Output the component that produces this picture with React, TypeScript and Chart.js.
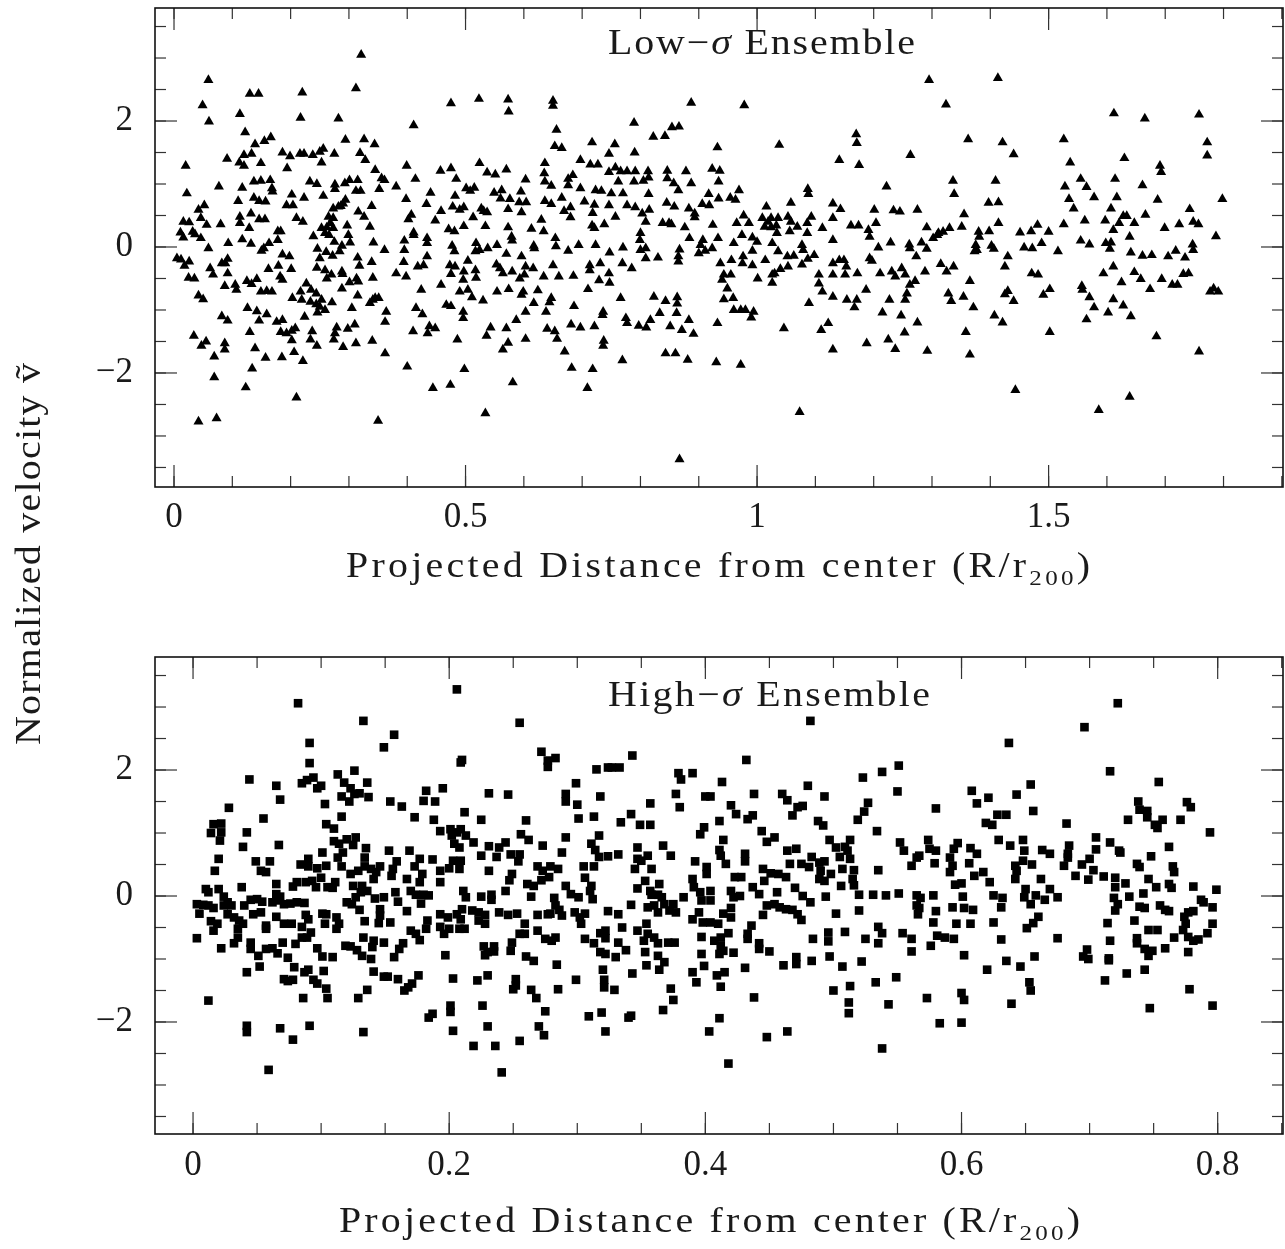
import React, { useEffect, useRef } from "react";
import { Chart, registerables } from "chart.js";

Chart.register(...registerables);

type Pt = [number, number];

// Low-sigma ensemble: [R/r200, normalized velocity]
const lowSigmaPoints: Pt[] = [
[0.321,3.05],[0.059,2.65],[0.130,2.43],[0.145,2.43],[0.220,2.45],[0.312,2.52],[0.049,2.25],[0.113,2.11],[0.217,2.05],[0.282,2.04],[0.060,1.99],[0.122,1.82],[0.166,1.74],[0.155,1.68],[0.139,1.63],[0.294,1.70],[0.326,1.71],[0.344,1.63],[0.091,1.40],[0.120,1.46],[0.133,1.48],[0.112,1.34],[0.120,1.29],[0.149,1.33],[0.186,1.50],[0.199,1.44],[0.216,1.48],[0.223,1.48],[0.238,1.46],[0.250,1.51],[0.256,1.56],[0.253,1.34],[0.194,1.25],[0.275,1.48],[0.319,1.49],[0.328,1.38],[0.020,1.29],[0.345,1.22],[0.356,1.09],[0.361,1.06],[0.077,0.96],[0.117,0.94],[0.137,1.04],[0.149,1.05],[0.165,1.06],[0.168,0.93],[0.169,0.88],[0.233,1.04],[0.245,1.00],[0.276,0.99],[0.276,0.92],[0.293,1.01],[0.301,1.06],[0.315,1.06],[0.312,0.89],[0.320,0.89],[0.352,0.92],[0.022,0.85],[0.202,0.83],[0.223,0.78],[0.256,0.81],[0.110,0.73],[0.137,0.78],[0.146,0.73],[0.157,0.72],[0.193,0.66],[0.204,0.66],[0.052,0.66],[0.042,0.59],[0.046,0.46],[0.273,0.61],[0.282,0.64],[0.290,0.69],[0.294,0.75],[0.286,0.65],[0.316,0.56],[0.326,0.48],[0.339,0.65],[0.132,0.53],[0.113,0.48],[0.113,0.38],[0.129,0.30],[0.146,0.44],[0.156,0.44],[0.210,0.46],[0.221,0.40],[0.265,0.48],[0.273,0.46],[0.268,0.38],[0.016,0.40],[0.026,0.39],[0.056,0.35],[0.080,0.36],[0.011,0.23],[0.016,0.15],[0.032,0.24],[0.036,0.20],[0.046,0.14],[0.253,0.30],[0.262,0.31],[0.259,0.22],[0.266,0.19],[0.273,0.30],[0.297,0.34],[0.299,0.19],[0.302,0.07],[0.336,0.32],[0.342,0.07],[0.178,0.25],[0.183,0.25],[0.178,0.11],[0.239,0.17],[0.117,0.12],[0.132,0.05],[0.093,0.06],[0.163,0.06],[0.154,-0.02],[0.150,-0.06],[0.275,0.08],[0.288,0.02],[0.284,-0.07],[0.272,-0.14],[0.246,-0.03],[0.261,-0.08],[0.250,-0.18],[0.361,-0.05],[0.059,-0.02],[0.186,-0.12],[0.198,-0.15],[0.201,-0.35],[0.005,-0.18],[0.012,-0.20],[0.026,-0.23],[0.018,-0.30],[0.082,-0.26],[0.092,-0.19],[0.088,-0.26],
[0.179,-0.30],[0.245,-0.33],[0.315,-0.17],[0.318,-0.30],[0.339,-0.24],[0.259,-0.37],[0.270,-0.44],[0.262,-0.50],[0.288,-0.39],[0.289,-0.43],[0.162,-0.35],[0.062,-0.34],[0.067,-0.44],[0.092,-0.42],[0.025,-0.49],[0.035,-0.50],[0.182,-0.47],[0.186,-0.52],[0.313,-0.50],[0.316,-0.55],[0.341,-0.49],[0.125,-0.54],[0.133,-0.59],[0.142,-0.51],[0.087,-0.62],[0.105,-0.60],[0.107,-0.68],[0.301,-0.56],[0.227,-0.58],[0.217,-0.71],[0.235,-0.68],[0.244,-0.74],[0.288,-0.66],[0.149,-0.71],[0.159,-0.70],[0.168,-0.71],[0.219,-0.84],[0.234,-0.87],[0.244,-0.91],[0.253,-0.84],[0.250,-0.95],[0.259,-1.00],[0.246,-1.04],[0.271,-0.88],[0.203,-0.81],[0.042,-0.77],[0.050,-0.83],[0.315,-0.77],[0.336,-0.89],[0.345,-0.81],[0.351,-0.81],[0.341,-0.84],[0.305,-0.97],[0.364,-1.03],[0.126,-0.97],[0.142,-1.02],[0.159,-1.07],[0.146,-1.17],[0.082,-1.10],[0.092,-1.17],[0.224,-1.11],[0.176,-1.19],[0.186,-1.16],[0.362,-1.19],[0.279,-1.28],[0.298,-1.30],[0.310,-1.23],[0.130,-1.35],[0.183,-1.35],[0.193,-1.37],[0.202,-1.33],[0.208,-1.29],[0.202,-1.48],[0.237,-1.34],[0.234,-1.47],[0.245,-1.57],[0.276,-1.37],[0.274,-1.47],[0.290,-1.59],[0.312,-1.53],[0.340,-1.49],[0.034,-1.41],[0.047,-1.57],[0.055,-1.50],[0.087,-1.53],[0.087,-1.63],[0.139,-1.61],[0.069,-1.74],[0.157,-1.76],[0.185,-1.75],[0.206,-1.67],[0.221,-1.81],[0.362,-1.69],[0.134,-1.93],[0.069,-2.07],[0.123,-2.23],[0.210,-2.39],[0.042,-2.77],[0.073,-2.72],[0.350,-2.76],
[0.475,2.28],[0.523,2.35],[0.573,2.34],[0.574,2.15],[0.650,2.32],[0.650,2.24],[0.411,1.93],[0.656,1.86],[0.653,1.60],[0.665,1.57],[0.717,1.66],[0.746,1.48],[0.399,1.29],[0.457,1.21],[0.475,1.25],[0.414,1.08],[0.381,0.96],[0.484,1.08],[0.524,1.33],[0.537,1.18],[0.551,1.15],[0.570,1.23],[0.603,1.07],[0.636,1.33],[0.635,1.17],[0.636,1.04],[0.647,0.97],[0.676,1.08],[0.684,1.14],[0.676,0.98],[0.697,1.38],[0.714,1.31],[0.727,1.31],[0.697,0.93],[0.746,1.19],[0.501,0.93],[0.515,0.94],[0.508,0.89],[0.440,0.86],[0.482,0.81],[0.549,0.86],[0.562,0.90],[0.560,0.77],[0.576,0.76],[0.573,0.60],[0.595,0.88],[0.592,0.71],[0.604,0.71],[0.596,0.55],[0.636,0.73],[0.647,0.68],[0.665,0.78],[0.669,0.57],[0.680,0.63],[0.680,0.47],[0.704,0.72],[0.723,0.90],[0.733,0.89],[0.721,0.67],[0.718,0.54],[0.398,0.76],[0.433,0.68],[0.458,0.57],[0.448,0.42],[0.478,0.64],[0.490,0.59],[0.497,0.63],[0.513,0.47],[0.527,0.61],[0.531,0.57],[0.537,0.55],[0.407,0.51],[0.402,0.44],[0.411,0.23],[0.411,0.19],[0.471,0.28],[0.481,0.25],[0.497,0.33],[0.534,0.33],[0.573,0.31],[0.579,0.16],[0.580,0.10],[0.613,0.29],[0.630,0.43],[0.634,0.25],[0.717,0.34],[0.721,0.30],[0.738,0.36],[0.746,0.66],[0.395,0.10],[0.395,-0.05],[0.434,0.06],[0.434,0.14],[0.434,-0.15],[0.477,0.02],[0.481,-0.07],[0.518,0.06],[0.524,-0.05],[0.538,-0.02],[0.517,-0.07],[0.554,0.03],[0.570,-0.11],[0.596,-0.15],[0.617,0.02],[0.618,-0.02],[0.654,0.14],[0.655,0.01],[0.676,-0.06],[0.694,0.03],[0.723,0.03],[0.747,-0.09],[0.381,-0.42],[0.398,-0.47],[0.394,-0.24],[0.418,-0.31],[0.428,-0.29],[0.424,-0.68],[0.458,-0.60],[0.473,-0.29],[0.482,-0.31],[0.475,-0.43],[0.497,-0.39],[0.496,-0.52],[0.517,-0.37],[0.518,-0.49],[0.504,-0.22],[0.490,-0.71],[0.504,-0.68],[0.511,-0.80],[0.530,-0.85],[0.553,-0.28],[0.559,-0.34],[0.564,-0.42],[0.580,-0.39],[0.593,-0.50],[0.601,-0.44],[0.603,-0.31],[0.616,-0.34],[0.554,-0.71],[0.574,-0.67],[0.596,-0.76],[0.599,-0.71],[0.624,-0.69],[0.634,-0.47],[0.650,-0.29],[0.660,-0.47],[0.685,-0.46],[0.713,-0.29],[0.713,-0.37],[0.731,-0.26],[0.729,-0.53],[0.746,-0.42],[0.747,-0.57],[0.710,-0.67],[0.647,-0.81],[0.644,-0.88],[0.617,-0.89],[0.603,-1.03],[0.638,-1.03],[0.686,-0.94],[0.736,-1.03],[0.735,-1.08],[0.415,-0.97],[0.426,-1.07],[0.467,-0.92],[0.475,-0.94],[0.496,-1.03],[0.496,-1.13],[0.410,-1.34],[0.438,-1.26],[0.448,-1.29],[0.435,-1.37],[0.486,-1.47],[0.536,-1.41],[0.543,-1.28],[0.570,-1.29],[0.573,-1.52],[0.564,-1.63],[0.587,-1.16],[0.603,-1.46],[0.640,-1.30],[0.653,-1.34],[0.657,-1.46],[0.670,-1.66],[0.681,-1.23],[0.697,-1.28],[0.721,-1.26],[0.737,-1.49],[0.736,-1.57],[0.400,-1.90],[0.498,-1.94],[0.682,-1.92],[0.718,-1.94],[0.444,-2.24],[0.474,-2.19],[0.581,-2.15],[0.709,-2.24],[0.534,-2.64],
[0.887,2.29],[0.978,2.25],[0.789,1.97],[0.822,1.75],[0.842,1.76],[0.854,1.90],[0.866,1.91],[0.932,1.58],[1.038,1.62],[0.756,1.63],[0.790,1.50],[0.757,1.26],[0.766,1.20],[0.777,1.20],[0.791,1.20],[0.805,1.05],[0.789,1.04],[0.813,1.20],[0.814,1.10],[0.762,1.04],[0.770,0.85],[0.750,0.85],[0.846,1.21],[0.846,1.09],[0.857,1.01],[0.865,0.90],[0.878,1.20],[0.887,1.01],[0.923,1.24],[0.936,1.21],[0.934,1.04],[0.814,0.84],[0.757,0.48],[0.777,0.66],[0.791,0.63],[0.803,0.53],[0.809,0.40],[0.815,0.59],[0.845,0.70],[0.858,0.64],[0.838,0.38],[0.849,0.38],[0.853,0.36],[0.883,0.61],[0.893,0.53],[0.893,0.47],[0.906,0.68],[0.918,0.66],[0.917,0.84],[0.934,0.77],[0.954,0.78],[0.963,0.75],[0.969,0.90],[0.876,0.31],[0.884,0.14],[0.924,0.35],[0.933,0.14],[0.907,0.11],[0.900,-0.10],[0.911,-0.06],[0.923,-0.02],[0.903,0.03],[0.867,-0.04],[0.865,-0.15],[0.865,-0.23],[0.800,0.22],[0.799,0.11],[0.809,-0.02],[0.800,-0.05],[0.770,-0.01],[0.769,-0.26],[0.785,-0.34],[0.809,-0.18],[0.830,-0.17],[0.977,0.50],[0.986,0.38],[0.974,0.19],[0.992,0.15],[1.000,0.08],[0.992,-0.06],[0.965,0.38],[0.960,0.06],[0.956,-0.21],[0.976,-0.15],[0.975,-0.26],[0.992,-0.29],[0.937,-0.26],[0.943,-0.44],[0.955,-0.44],[0.940,-0.52],[0.949,-0.66],[0.943,-0.83],[0.959,-0.81],[0.960,-1.00],[0.972,-1.00],[0.980,-1.00],[0.994,-1.03],[0.990,-1.12],[1.016,0.64],[1.009,0.46],[1.019,0.40],[1.024,0.46],[1.036,0.46],[1.033,0.34],[1.024,0.31],[1.013,0.32],[1.053,0.48],[1.058,0.40],[1.069,0.32],[1.056,0.25],[1.034,0.22],[1.086,0.22],[1.093,0.48],[1.112,0.30],[1.086,0.38],[1.087,0.92],[1.088,0.84],[1.058,0.70],[1.130,0.69],[1.130,0.46],[1.130,0.11],[1.026,0.06],[1.036,-0.07],[1.014,-0.21],[1.052,-0.15],[1.063,-0.14],[1.077,0.03],[1.079,-0.05],[1.026,-0.44],[1.030,-0.42],[1.040,-0.35],[1.053,-0.31],[1.026,-0.57],[1.077,-0.28],[1.087,-0.19],[1.098,-0.13],[1.001,-0.50],[1.106,-0.44],[1.106,-0.58],[1.112,-0.71],[1.089,-0.89],[1.130,-0.26],[1.130,-0.44],[1.130,-0.79],[0.766,-0.81],[0.823,-0.79],[0.843,-0.86],[0.863,-0.80],[0.863,-0.90],[0.862,-1.05],[0.833,-1.05],[0.775,-1.13],[0.777,-1.21],[0.797,-1.25],[0.810,-1.28],[0.817,-1.16],[0.851,-1.26],[0.871,-1.32],[0.883,-1.16],[0.891,-1.38],[0.932,-1.21],[1.046,-1.29],[1.110,-1.32],[1.122,-1.21],[1.130,-1.63],[0.843,-1.69],[0.860,-1.69],[0.881,-1.79],[0.769,-1.80],[0.930,-1.83],[0.972,-1.87],[1.073,-2.62],[0.867,-3.37],
[1.295,2.65],[1.413,2.68],[1.324,2.26],[1.170,1.79],[1.171,1.65],[1.362,1.71],[1.421,1.66],[1.440,1.47],[1.141,1.38],[1.175,1.30],[1.263,1.46],[1.222,0.96],[1.336,1.05],[1.338,0.84],[1.409,1.05],[1.397,0.70],[1.414,0.71],[1.143,0.60],[1.201,0.59],[1.234,0.58],[1.245,0.56],[1.275,0.59],[1.355,0.52],[1.161,0.34],[1.174,0.34],[1.191,0.27],[1.193,0.16],[1.204,0.38],[1.291,0.31],[1.302,0.14],[1.311,0.22],[1.319,0.24],[1.330,0.30],[1.351,0.32],[1.309,0.19],[1.380,0.24],[1.381,0.16],[1.375,0.03],[1.373,-0.07],[1.377,-0.05],[1.398,0.25],[1.414,0.38],[1.402,0.02],[1.406,-0.03],[1.451,0.23],[1.470,0.25],[1.481,0.35],[1.500,0.24],[1.488,0.06],[1.458,-0.01],[1.472,-0.02],[1.516,-0.07],[1.208,-0.01],[1.229,0.07],[1.261,0.04],[1.262,-0.02],[1.273,-0.15],[1.282,0.07],[1.291,-0.03],[1.141,-0.21],[1.149,-0.21],[1.153,-0.31],[1.151,-0.44],[1.172,-0.42],[1.193,-0.18],[1.197,-0.22],[1.211,-0.42],[1.231,-0.39],[1.237,-0.47],[1.248,-0.34],[1.254,-0.44],[1.262,-0.60],[1.271,-0.54],[1.257,-0.74],[1.254,-0.84],[1.288,-0.39],[1.315,-0.27],[1.325,-0.39],[1.337,-0.31],[1.365,-0.54],[1.328,-0.74],[1.333,-0.86],[1.354,-0.79],[1.371,-0.96],[1.425,-0.31],[1.430,-0.15],[1.425,-0.75],[1.430,-0.70],[1.440,-0.86],[1.471,-0.42],[1.482,-0.44],[1.491,-0.76],[1.502,-0.67],[1.154,-0.84],[1.171,-0.84],[1.167,-0.96],[1.187,-0.68],[1.227,-0.84],[1.215,-1.04],[1.247,-1.09],[1.253,-1.36],[1.275,-1.20],[1.225,-1.47],[1.237,-1.62],[1.188,-1.53],[1.292,-1.65],[1.358,-1.35],[1.365,-1.71],[1.407,-1.09],[1.421,-1.20],[1.502,-1.35],[1.443,-2.27],
[1.612,2.12],[1.665,2.04],[1.758,2.10],[1.526,1.71],[1.772,1.66],[1.772,1.45],[1.537,1.34],[1.630,1.41],[1.691,1.29],[1.693,1.19],[1.555,1.08],[1.565,0.95],[1.614,1.08],[1.661,0.98],[1.528,0.96],[1.535,0.76],[1.543,0.61],[1.578,0.79],[1.617,0.79],[1.687,0.75],[1.798,0.76],[1.607,0.61],[1.628,0.49],[1.634,0.49],[1.742,0.60],[1.666,0.51],[1.526,0.36],[1.562,0.42],[1.597,0.42],[1.621,0.38],[1.647,0.38],[1.611,0.27],[1.699,0.30],[1.724,0.36],[1.748,0.40],[1.757,0.36],[1.639,0.16],[1.787,0.17],[1.555,0.10],[1.570,0.04],[1.598,0.06],[1.607,0.07],[1.605,-0.03],[1.641,-0.09],[1.661,-0.14],[1.677,-0.13],[1.705,-0.15],[1.718,-0.06],[1.734,-0.17],[1.747,0.04],[1.748,-0.05],[1.594,-0.42],[1.611,-0.31],[1.647,-0.40],[1.658,-0.51],[1.625,-0.56],[1.674,-0.67],[1.694,-0.51],[1.712,-0.60],[1.721,-0.60],[1.731,-0.43],[1.740,-0.42],[1.557,-0.62],[1.558,-0.68],[1.570,-0.80],[1.578,-0.96],[1.565,-1.15],[1.611,-0.83],[1.602,-1.04],[1.628,-0.93],[1.641,-1.10],[1.777,-0.71],[1.783,-0.66],[1.791,-0.71],[1.685,-1.42],[1.758,-1.66],[1.639,-2.38],[1.586,-2.59]
];

// High-sigma ensemble: [R/r200, normalized velocity]
const highSigmaPoints: Pt[] = [
[0.082,3.06],[0.133,2.78],[0.091,2.43],[0.149,2.36],[0.091,2.11],[0.044,1.85],[0.065,1.75],[0.068,1.53],[0.028,1.40],[0.085,1.79],[0.089,1.84],[0.094,1.88],[0.097,1.71],[0.100,1.75],[0.103,1.46],[0.113,1.93],[0.118,1.80],[0.123,1.71],[0.126,1.99],[0.136,1.80],[0.137,1.57],[0.116,1.58],[0.122,1.50],[0.126,1.62],[0.130,1.63],[0.116,1.26],[0.055,1.23],[0.016,1.14],[0.022,1.15],[0.014,1.00],[0.022,1.01],[0.021,0.88],[0.042,1.01],[0.039,0.78],[0.067,0.81],[0.104,1.14],[0.110,1.07],[0.110,0.87],[0.114,0.83],[0.120,0.90],[0.125,0.81],[0.127,0.93],[0.135,0.76],[0.117,0.69],[0.113,0.61],[0.116,0.47],[0.134,0.61],[0.134,0.47],[0.101,0.69],[0.020,0.59],[0.017,0.40],[0.049,0.55],[0.060,0.55],[0.053,0.40],[0.057,0.38],[0.084,0.50],[0.090,0.59],[0.090,0.47],[0.097,0.44],[0.104,0.48],[0.123,0.35],[0.129,0.40],[0.139,0.43],[0.143,0.38],[0.146,0.47],[0.141,0.27],[0.010,0.11],[0.012,0.06],[0.020,0.11],[0.038,0.14],[0.065,0.19],[0.065,0.03],[0.068,-0.01],[0.078,0.15],[0.081,0.22],[0.088,0.22],[0.093,0.24],[0.100,0.29],[0.096,0.14],[0.105,0.14],[0.109,0.13],[0.111,0.22],[0.125,0.16],[0.132,0.16],[0.136,0.08],[0.131,0.06],[0.127,-0.02],[0.142,-0.04],[0.149,-0.02],[0.003,-0.13],[0.008,-0.14],[0.012,-0.15],[0.016,-0.19],[0.005,-0.28],[0.024,-0.01],[0.027,-0.10],[0.024,-0.15],[0.030,-0.15],[0.027,-0.29],[0.032,-0.34],[0.036,-0.39],[0.039,-0.44],[0.040,-0.15],[0.045,-0.06],[0.050,-0.05],[0.054,-0.09],[0.047,-0.29],[0.053,-0.26],[0.062,-0.10],[0.066,-0.07],[0.071,-0.13],[0.076,-0.12],[0.081,-0.10],[0.087,-0.11],[0.065,-0.33],[0.088,-0.30],[0.090,-0.37],[0.101,-0.28],[0.104,-0.29],[0.112,-0.34],[0.114,-0.44],[0.112,-0.52],[0.120,-0.10],[0.124,-0.13],[0.130,-0.22],[0.146,-0.21],[0.146,-0.31],[0.134,-0.40],[0.145,-0.43],[0.014,-0.40],[0.019,-0.44],[0.016,-0.55],[0.035,-0.52],[0.035,-0.66],[0.057,-0.47],[0.057,-0.52],[0.071,-0.44],[0.077,-0.44],[0.085,-0.49],[0.103,-0.44],[0.003,-0.67],[0.022,-0.83],[0.032,-0.75],[0.045,-0.74],[0.045,-0.84],[0.057,-0.84],[0.062,-0.83],[0.066,-0.91],[0.070,-0.74],[0.080,-0.76],[0.085,-0.66],[0.089,-0.66],[0.092,-0.58],[0.097,-0.83],[0.101,-0.96],[0.109,-0.97],[0.051,-0.95],[0.074,-0.98],[0.119,-0.79],[0.123,-0.80],[0.128,-0.86],[0.132,-0.95],[0.139,-1.00],[0.140,-0.81],[0.141,-0.71],[0.133,-0.66],[0.149,-0.74],[0.042,-1.21],[0.052,-1.12],[0.079,-1.13],[0.087,-1.21],[0.090,-1.17],[0.102,-1.19],[0.071,-1.32],[0.074,-1.35],[0.078,-1.33],[0.094,-1.33],[0.097,-1.39],[0.104,-1.47],[0.141,-1.20],[0.149,-1.28],[0.136,-1.49],[0.012,-1.66],[0.086,-1.62],[0.105,-1.62],[0.129,-1.62],[0.042,-2.06],[0.042,-2.16],[0.068,-2.10],[0.091,-2.06],[0.078,-2.28],[0.133,-2.16],[0.059,-2.76],
[0.206,3.28],[0.255,2.75],[0.157,2.56],[0.209,2.12],[0.210,2.16],[0.272,2.29],[0.277,2.15],[0.283,2.19],[0.277,2.05],[0.315,2.01],[0.324,2.04],[0.299,1.79],[0.182,1.67],[0.195,1.71],[0.154,1.50],[0.163,1.42],[0.180,1.51],[0.189,1.50],[0.231,1.63],[0.246,1.61],[0.291,1.62],[0.291,1.50],[0.300,1.45],[0.318,1.58],[0.173,1.25],[0.188,1.21],[0.212,1.33],[0.225,1.21],[0.260,1.20],[0.301,1.23],[0.313,1.26],[0.193,1.03],[0.201,1.06],[0.206,1.01],[0.209,1.06],[0.202,0.96],[0.213,0.96],[0.204,0.83],[0.208,0.77],[0.219,0.85],[0.256,0.98],[0.262,0.89],[0.273,0.80],[0.291,0.93],[0.317,0.96],[0.311,0.83],[0.314,0.73],[0.317,0.62],[0.153,0.72],[0.169,0.72],[0.231,0.79],[0.239,0.77],[0.244,0.85],[0.237,0.62],[0.225,0.64],[0.248,0.66],[0.255,0.66],[0.254,0.55],[0.288,0.69],[0.324,0.63],[0.159,0.55],[0.177,0.59],[0.187,0.58],[0.203,0.56],[0.209,0.56],[0.156,0.43],[0.173,0.47],[0.179,0.35],[0.193,0.40],[0.200,0.44],[0.208,0.43],[0.155,0.32],[0.167,0.27],[0.177,0.22],[0.193,0.22],[0.231,0.40],[0.249,0.35],[0.247,0.25],[0.269,0.47],[0.273,0.40],[0.279,0.47],[0.285,0.43],[0.272,0.25],[0.278,0.30],[0.261,0.19],[0.266,0.16],[0.305,0.47],[0.313,0.47],[0.306,0.29],[0.311,0.16],[0.158,0.06],[0.160,-0.09],[0.170,0.08],[0.174,0.02],[0.180,0.02],[0.184,0.01],[0.178,-0.12],[0.211,0.08],[0.213,-0.02],[0.225,-0.01],[0.233,0.02],[0.233,-0.06],[0.244,0.08],[0.264,-0.01],[0.282,-0.03],[0.283,-0.15],[0.286,-0.22],[0.279,-0.28],[0.288,-0.31],[0.291,0.16],[0.295,0.03],[0.301,-0.02],[0.310,0.08],[0.312,-0.05],[0.167,-0.24],[0.193,-0.29],[0.199,-0.34],[0.206,-0.29],[0.210,-0.21],[0.209,-0.37],[0.218,-0.23],[0.223,-0.26],[0.228,-0.30],[0.223,-0.39],[0.228,-0.44],[0.239,-0.26],[0.246,-0.30],[0.253,-0.28],[0.269,-0.30],[0.277,-0.29],[0.298,-0.26],[0.302,-0.34],[0.306,-0.28],[0.303,-0.44],[0.324,-0.24],[0.154,-0.42],[0.183,-0.39],[0.182,-0.52],[0.193,-0.49],[0.196,-0.60],[0.200,-0.52],[0.208,-0.52],[0.212,-0.52],[0.259,-0.44],[0.259,-0.60],[0.255,-0.60],[0.269,-0.55],[0.275,-0.68],[0.280,-0.71],[0.283,-0.66],[0.170,-0.55],[0.174,-0.60],[0.177,-0.70],[0.164,-0.75],[0.161,-0.84],[0.157,-0.97],[0.227,-0.80],[0.235,-0.80],[0.230,-0.89],[0.228,-0.94],[0.235,-0.88],[0.249,-0.74],[0.248,-0.87],[0.197,-0.94],[0.260,-0.96],[0.266,-1.03],[0.284,-1.09],[0.306,-0.68],[0.313,-0.75],[0.318,-0.59],[0.322,-0.55],[0.322,-0.67],[0.318,-0.89],[0.322,-0.92],[0.320,-1.17],[0.152,-1.28],[0.160,-1.32],[0.176,-1.26],[0.171,-1.39],[0.165,-1.50],[0.168,-1.45],[0.203,-1.31],[0.222,-1.34],[0.230,-1.26],[0.252,-1.32],[0.250,-1.48],[0.252,-1.42],[0.264,-1.49],[0.268,-1.62],[0.285,-1.48],[0.299,-1.33],[0.321,-1.33],[0.321,-1.45],[0.201,-1.74],[0.201,-1.84],[0.226,-1.74],[0.184,-1.93],[0.187,-1.87],[0.275,-1.83],[0.309,-1.91],[0.319,-1.85],[0.203,-2.14],[0.230,-2.07],[0.270,-2.07],[0.274,-2.21],[0.322,-2.15],[0.219,-2.38],[0.236,-2.38],[0.255,-2.30],[0.241,-2.80],
[0.482,2.78],[0.343,2.23],[0.327,2.04],[0.333,2.04],[0.432,2.16],[0.379,1.95],[0.381,1.85],[0.390,1.95],[0.413,1.81],[0.480,1.75],[0.377,1.62],[0.380,1.41],[0.400,1.58],[0.404,1.58],[0.438,1.62],[0.460,1.62],[0.464,1.52],[0.493,1.58],[0.357,1.47],[0.420,1.44],[0.424,1.30],[0.433,1.22],[0.437,1.28],[0.472,1.41],[0.476,1.43],[0.468,1.28],[0.334,1.17],[0.342,1.30],[0.349,1.13],[0.357,1.13],[0.411,1.19],[0.488,1.19],[0.492,1.12],[0.399,1.09],[0.396,0.98],[0.444,1.03],[0.448,0.86],[0.454,0.93],[0.414,0.89],[0.497,0.89],[0.367,0.80],[0.347,0.77],[0.347,0.59],[0.350,0.56],[0.345,0.43],[0.355,0.64],[0.358,0.43],[0.332,0.66],[0.373,0.64],[0.411,0.73],[0.412,0.64],[0.416,0.51],[0.392,0.55],[0.401,0.46],[0.401,0.35],[0.431,0.67],[0.431,0.55],[0.464,0.72],[0.471,0.75],[0.466,0.51],[0.475,0.51],[0.483,0.62],[0.481,0.46],[0.489,0.53],[0.493,0.55],[0.490,0.40],[0.445,0.43],[0.446,0.24],[0.423,0.30],[0.428,0.30],[0.451,0.36],[0.457,0.35],[0.463,0.30],[0.489,0.27],[0.493,0.24],[0.498,0.35],[0.353,0.24],[0.357,0.08],[0.364,0.19],[0.358,0.02],[0.363,0.02],[0.366,-0.02],[0.360,-0.15],[0.363,-0.26],[0.347,0.12],[0.368,-0.13],[0.375,-0.13],[0.377,-0.26],[0.372,-0.23],[0.383,-0.02],[0.342,-0.14],[0.355,-0.18],[0.390,0.27],[0.391,0.14],[0.396,0.06],[0.397,-0.07],[0.404,-0.07],[0.404,0.08],[0.420,0.08],[0.427,0.00],[0.422,-0.02],[0.437,0.14],[0.442,0.03],[0.456,0.06],[0.470,0.13],[0.476,0.00],[0.482,-0.10],[0.494,-0.01],[0.332,-0.29],[0.390,-0.37],[0.395,-0.26],[0.398,-0.42],[0.404,-0.42],[0.410,-0.44],[0.414,-0.28],[0.420,-0.19],[0.420,-0.34],[0.445,-0.30],[0.448,-0.15],[0.454,-0.13],[0.458,-0.18],[0.463,-0.21],[0.468,-0.22],[0.472,-0.29],[0.475,-0.38],[0.436,-0.47],[0.433,-0.60],[0.433,-0.68],[0.335,-0.50],[0.347,-0.55],[0.354,-0.44],[0.355,-0.60],[0.352,-0.71],[0.360,-0.66],[0.363,-0.75],[0.371,-0.74],[0.376,-0.74],[0.353,-0.89],[0.332,-0.74],[0.338,-0.86],[0.330,-0.97],[0.363,-0.95],[0.368,-1.05],[0.364,-1.17],[0.354,-1.10],[0.343,-1.23],[0.397,-0.65],[0.397,-0.92],[0.399,-1.11],[0.407,-0.71],[0.412,-0.66],[0.418,-0.59],[0.412,-0.79],[0.411,-0.92],[0.414,-0.87],[0.422,-0.90],[0.442,-0.75],[0.442,-0.84],[0.450,-0.88],[0.431,-1.14],[0.461,-1.10],[0.471,-0.97],[0.471,-1.08],[0.483,-1.03],[0.484,-0.68],[0.496,-0.58],[0.496,-0.72],[0.497,-0.96],[0.390,-1.21],[0.393,-1.37],[0.409,-1.26],[0.415,-1.21],[0.412,-1.44],[0.373,-1.47],[0.375,-1.65],[0.329,-1.49],[0.438,-1.61],[0.500,-1.50],[0.367,-1.81],[0.340,-1.93],[0.342,-1.90],[0.411,-1.94],[0.403,-2.15],[0.448,-2.24],[0.464,-2.15],[0.418,-2.66],
[0.637,2.43],[0.523,1.88],[0.538,1.97],[0.551,2.07],[0.550,1.66],[0.608,1.67],[0.612,1.47],[0.621,1.56],[0.643,1.61],[0.654,1.77],[0.656,1.35],[0.527,1.48],[0.524,1.34],[0.519,1.21],[0.580,1.39],[0.619,1.16],[0.624,1.13],[0.628,1.29],[0.635,1.29],[0.534,1.03],[0.502,0.77],[0.509,0.78],[0.513,0.89],[0.505,0.62],[0.511,0.72],[0.513,0.59],[0.552,0.85],[0.555,0.72],[0.574,0.89],[0.567,0.64],[0.575,0.75],[0.580,0.72],[0.561,0.48],[0.565,0.61],[0.579,0.52],[0.597,0.84],[0.594,0.75],[0.591,0.61],[0.593,0.48],[0.591,0.38],[0.607,0.76],[0.612,0.67],[0.606,0.52],[0.629,0.89],[0.638,0.80],[0.648,0.89],[0.649,0.72],[0.663,0.73],[0.669,0.67],[0.642,0.48],[0.648,0.56],[0.655,0.50],[0.643,0.40],[0.642,0.27],[0.507,0.43],[0.516,0.41],[0.515,0.27],[0.506,0.16],[0.516,0.17],[0.535,0.41],[0.617,0.38],[0.622,0.22],[0.610,0.32],[0.662,0.27],[0.669,0.11],[0.595,0.18],[0.600,0.20],[0.520,0.02],[0.531,0.02],[0.541,0.01],[0.551,0.04],[0.565,0.01],[0.568,-0.03],[0.565,-0.15],[0.566,-0.29],[0.567,-0.19],[0.578,0.01],[0.601,-0.01],[0.625,0.01],[0.632,-0.03],[0.631,-0.18],[0.650,0.11],[0.649,-0.02],[0.654,-0.13],[0.658,0.01],[0.665,-0.06],[0.675,-0.02],[0.502,-0.28],[0.520,-0.23],[0.580,-0.24],[0.593,-0.18],[0.602,-0.19],[0.609,-0.22],[0.660,-0.33],[0.656,-0.43],[0.651,-0.51],[0.535,-0.49],[0.538,-0.59],[0.535,-0.75],[0.554,-0.59],[0.561,-0.68],[0.561,-0.88],[0.578,-0.42],[0.581,-0.63],[0.587,-0.66],[0.594,-0.68],[0.576,-0.79],[0.596,-0.44],[0.607,-0.44],[0.625,-0.42],[0.631,-0.69],[0.509,-0.57],[0.525,-0.68],[0.507,-1.12],[0.522,-1.04],[0.602,-0.94],[0.620,-1.17],[0.635,-1.03],[0.646,-1.12],[0.657,-0.96],[0.675,-0.67],[0.513,-1.43],[0.533,-1.37],[0.549,-1.29],[0.512,-1.69],[0.512,-1.86],[0.543,-1.72],[0.573,-1.62],[0.600,-1.54],[0.602,-1.65],[0.653,-1.37],[0.654,-1.50],[0.639,-1.71],[0.583,-2.02],[0.600,-2.01],[0.538,-2.42],
[0.722,3.06],[0.696,2.68],[0.716,1.98],[0.754,1.81],[0.738,1.50],[0.739,1.37],[0.745,1.35],[0.776,1.49],[0.779,1.41],[0.730,1.21],[0.745,1.25],[0.751,1.13],[0.753,1.08],[0.757,1.21],[0.771,1.21],[0.682,1.15],[0.794,1.01],[0.705,0.93],[0.684,0.80],[0.683,0.67],[0.683,0.61],[0.680,0.48],[0.705,0.74],[0.716,0.85],[0.723,0.72],[0.724,0.69],[0.762,0.78],[0.748,0.63],[0.694,0.50],[0.700,0.59],[0.703,0.41],[0.737,0.51],[0.739,0.46],[0.765,0.47],[0.766,0.38],[0.689,0.32],[0.699,0.26],[0.711,0.31],[0.720,0.29],[0.720,0.14],[0.728,0.20],[0.746,0.27],[0.752,0.14],[0.762,0.19],[0.764,0.13],[0.781,0.15],[0.799,0.10],[0.719,-0.03],[0.722,-0.13],[0.720,-0.23],[0.731,-0.01],[0.739,-0.17],[0.743,-0.19],[0.742,0.04],[0.735,-0.39],[0.714,-0.43],[0.755,-0.15],[0.759,-0.22],[0.762,-0.24],[0.787,-0.06],[0.789,-0.10],[0.796,-0.18],[0.774,-0.33],[0.777,-0.26],[0.781,-0.24],[0.775,-0.44],[0.773,-0.54],[0.746,-0.54],[0.753,-0.54],[0.796,-0.44],[0.792,-0.59],[0.716,-0.71],[0.737,-0.67],[0.737,-0.75],[0.743,-0.84],[0.746,-0.95],[0.749,-0.87],[0.759,-0.83],[0.766,-0.66],[0.777,-0.65],[0.781,-0.71],[0.785,-0.69],[0.777,-0.89],[0.698,-0.85],[0.695,-0.96],[0.699,-1.00],[0.715,-0.99],[0.715,-1.02],[0.743,-1.17],[0.729,-1.23],[0.712,-1.34],[0.778,-1.48],[0.747,-1.78],[0.796,-1.74]
];

const lowXTicks = [0, 0.5, 1, 1.5];
const highXTicks = [0, 0.2, 0.4, 0.6, 0.8];
const yTicks = [-2, 0, 2];
const lowXMinorStep = 0.1;
const highXMinorStep = 0.05;
const yMinorStep = 0.5;

const W = 1285;
const H = 1249;
const FONT = '"Liberation Serif", "DejaVu Serif", serif';
const TEXT = "#1a1a1a";

type Run = { text: string; size: number; italic?: boolean; dy?: number };

function fmt(v: number): string {
  const s = String(Math.round(v * 100) / 100);
  return s.replace("-", "\u2212");
}

function drawRuns(ctx: CanvasRenderingContext2D, runs: Run[], x: number, y: number, target: number) {
  ctx.save();
  ctx.fillStyle = TEXT;
  ctx.textAlign = "left";
  ctx.textBaseline = "alphabetic";
  const c: any = ctx;
  let natural = 0;
  let n = 0;
  const widths: number[] = [];
  for (const r of runs) {
    ctx.font = `${r.italic ? "italic " : ""}${r.size}px ${FONT}`;
    c.letterSpacing = "0px";
    const w = ctx.measureText(r.text).width;
    widths.push(w);
    natural += w;
    n += Array.from(r.text).length;
  }
  // widen glyphs a little (the original uses a broad stroke font), spread the rest
  const sx = Math.min(1.14, Math.max(1, target / natural));
  const ls = n > 1 ? (target / sx - natural) / (n - 1) : 0;
  ctx.translate(x, y);
  ctx.scale(sx, 1);
  let cx = 0;
  runs.forEach((r, i) => {
    ctx.font = `${r.italic ? "italic " : ""}${r.size}px ${FONT}`;
    c.letterSpacing = `${ls}px`;
    ctx.fillText(r.text, cx, r.dy || 0);
    cx += widths[i] + ls * Array.from(r.text).length;
  });
  ctx.restore();
}

const frameTicks = {
  id: "frameTicks",
  afterDraw(chart: any, _args: any, opts: any) {
    const { ctx, chartArea: a, scales } = chart;
    const xs = scales.x;
    const ys = scales.y;
    ctx.save();
    ctx.strokeStyle = "#333";
    ctx.lineWidth = 1.2;
    const line = (x1: number, y1: number, x2: number, y2: number) => {
      ctx.beginPath();
      ctx.moveTo(x1, y1);
      ctx.lineTo(x2, y2);
      ctx.stroke();
    };
    const xTick = (v: number, len: number) => {
      const p = xs.getPixelForValue(v);
      line(p, a.bottom, p, a.bottom - len);
      line(p, a.top, p, a.top + len);
    };
    const yTick = (v: number, len: number) => {
      const p = ys.getPixelForValue(v);
      line(a.left, p, a.left + len, p);
      line(a.right, p, a.right - len, p);
    };
    const minorLoop = (min: number, max: number, step: number, fn: (v: number) => void) => {
      for (let i = Math.ceil(min / step - 1e-9); i * step <= max + 1e-9; i++) fn(i * step);
    };
    minorLoop(xs.min, xs.max, opts.xMinorStep, (v) => xTick(v, 11));
    (opts.xMajor as number[]).forEach((v) => xTick(v, 22));
    minorLoop(ys.min, ys.max, opts.yMinorStep, (v) => yTick(v, 11));
    (opts.yMajor as number[]).forEach((v) => yTick(v, 22));
    ctx.strokeStyle = "#111";
    ctx.lineWidth = 1.6;
    ctx.strokeRect(a.left, a.top, a.right - a.left, a.bottom - a.top);
    ctx.restore();

    drawRuns(ctx, opts.title, opts.titleX, opts.titleY, opts.titleW);
    drawRuns(ctx, opts.xTitle, opts.xTitleX, opts.xTitleY, opts.xTitleW);
    if (opts.yTitle) {
      ctx.save();
      ctx.translate(opts.yTitleX, opts.yTitleY);
      ctx.rotate(-Math.PI / 2);
      drawRuns(ctx, opts.yTitle, 0, 0, opts.yTitleW);
      ctx.restore();
    }
  },
};

const xTitleRuns: Run[] = [
  { text: "Projected Distance from center (R/r", size: 35 },
  { text: "200", size: 22, dy: 8 },
  { text: ")", size: 35 },
];

function makeConfig(panel: "low" | "high"): any {
  const low = panel === "low";
  const pts = low ? lowSigmaPoints : highSigmaPoints;
  const xMajor = low ? lowXTicks : highXTicks;
  const top = low ? 8 : 657;
  const bottom = low ? 487 : 1134;
  const xAxisH = low ? 133 : 115;
  const tickFont = { family: FONT, size: 35 };
  return {
    type: "scatter",
    data: {
      datasets: [
        {
          data: pts.map(([x, y]) => ({ x, y })),
          pointStyle: low ? "triangle" : "rect",
          pointRadius: low ? 5.8 : 6.1,
          pointHoverRadius: low ? 5.8 : 6.1,
          backgroundColor: "#000",
          borderColor: "#000",
          borderWidth: 0,
        },
      ],
    },
    options: {
      responsive: false,
      animation: false,
      events: [],
      layout: { autoPadding: false, padding: { top, right: 2, left: 0, bottom: H - bottom - xAxisH } },
      plugins: {
        legend: { display: false },
        tooltip: { enabled: false },
        frameTicks: {
          xMajor,
          xMinorStep: low ? lowXMinorStep : highXMinorStep,
          yMajor: yTicks,
          yMinorStep,
          title: low
            ? [{ text: "Low\u2212", size: 35 }, { text: "\u03c3", size: 35, italic: true }, { text: " Ensemble", size: 35 }]
            : [{ text: "High\u2212", size: 35 }, { text: "\u03c3", size: 35, italic: true }, { text: " Ensemble", size: 35 }],
          titleX: 608,
          titleY: low ? 54 : 706,
          titleW: low ? 307 : 322,
          xTitle: xTitleRuns,
          xTitleX: low ? 346 : 339,
          xTitleY: low ? 577 : 1232,
          xTitleW: low ? 744 : 741,
          yTitle: low ? [{ text: "Normalized velocity \u1e7d", size: 35 }] : null,
          yTitleX: 40,
          yTitleY: 745,
          yTitleW: 382,
        },
      },
      scales: {
        x: {
          type: "linear",
          min: low ? -0.0326 : -0.0297,
          max: low ? 1.902 : 0.851,
          grid: { display: false, drawTicks: false },
          border: { display: false },
          ticks: { font: tickFont, color: TEXT, padding: low ? 10 : 11, maxRotation: 0, autoSkip: false, callback: (v: number) => fmt(v) },
          afterBuildTicks: (s: any) => {
            s.ticks = xMajor.map((v) => ({ value: v }));
          },
          afterFit: (s: any) => {
            s.height = xAxisH;
            s.paddingLeft = 0;
            s.paddingRight = 0;
          },
        },
        y: {
          type: "linear",
          min: low ? -3.81 : -3.778,
          max: 3.794,
          grid: { display: false, drawTicks: false },
          border: { display: false },
          ticks: { font: tickFont, color: TEXT, padding: 22, autoSkip: false, callback: (v: number) => fmt(v) },
          afterBuildTicks: (s: any) => {
            s.ticks = yTicks.map((v) => ({ value: v }));
          },
          afterFit: (s: any) => {
            s.width = 155;
            s.paddingTop = 0;
            s.paddingBottom = 0;
          },
        },
      },
    },
    plugins: [frameTicks],
  };
}

export default function App() {
  const lowRef = useRef<HTMLCanvasElement | null>(null);
  const highRef = useRef<HTMLCanvasElement | null>(null);
  useEffect(() => {
    const charts: Chart[] = [];
    if (lowRef.current) charts.push(new Chart(lowRef.current, makeConfig("low")));
    if (highRef.current) charts.push(new Chart(highRef.current, makeConfig("high")));
    return () => charts.forEach((c) => c.destroy());
  }, []);
  const cStyle: React.CSSProperties = { position: "absolute", left: 0, top: 0, width: W, height: H };
  return (
    <div style={{ position: "absolute", left: 0, top: 0, width: W, height: H, background: "#fff" }}>
      <canvas ref={lowRef} width={W} height={H} style={cStyle} />
      <canvas ref={highRef} width={W} height={H} style={cStyle} />
    </div>
  );
}
